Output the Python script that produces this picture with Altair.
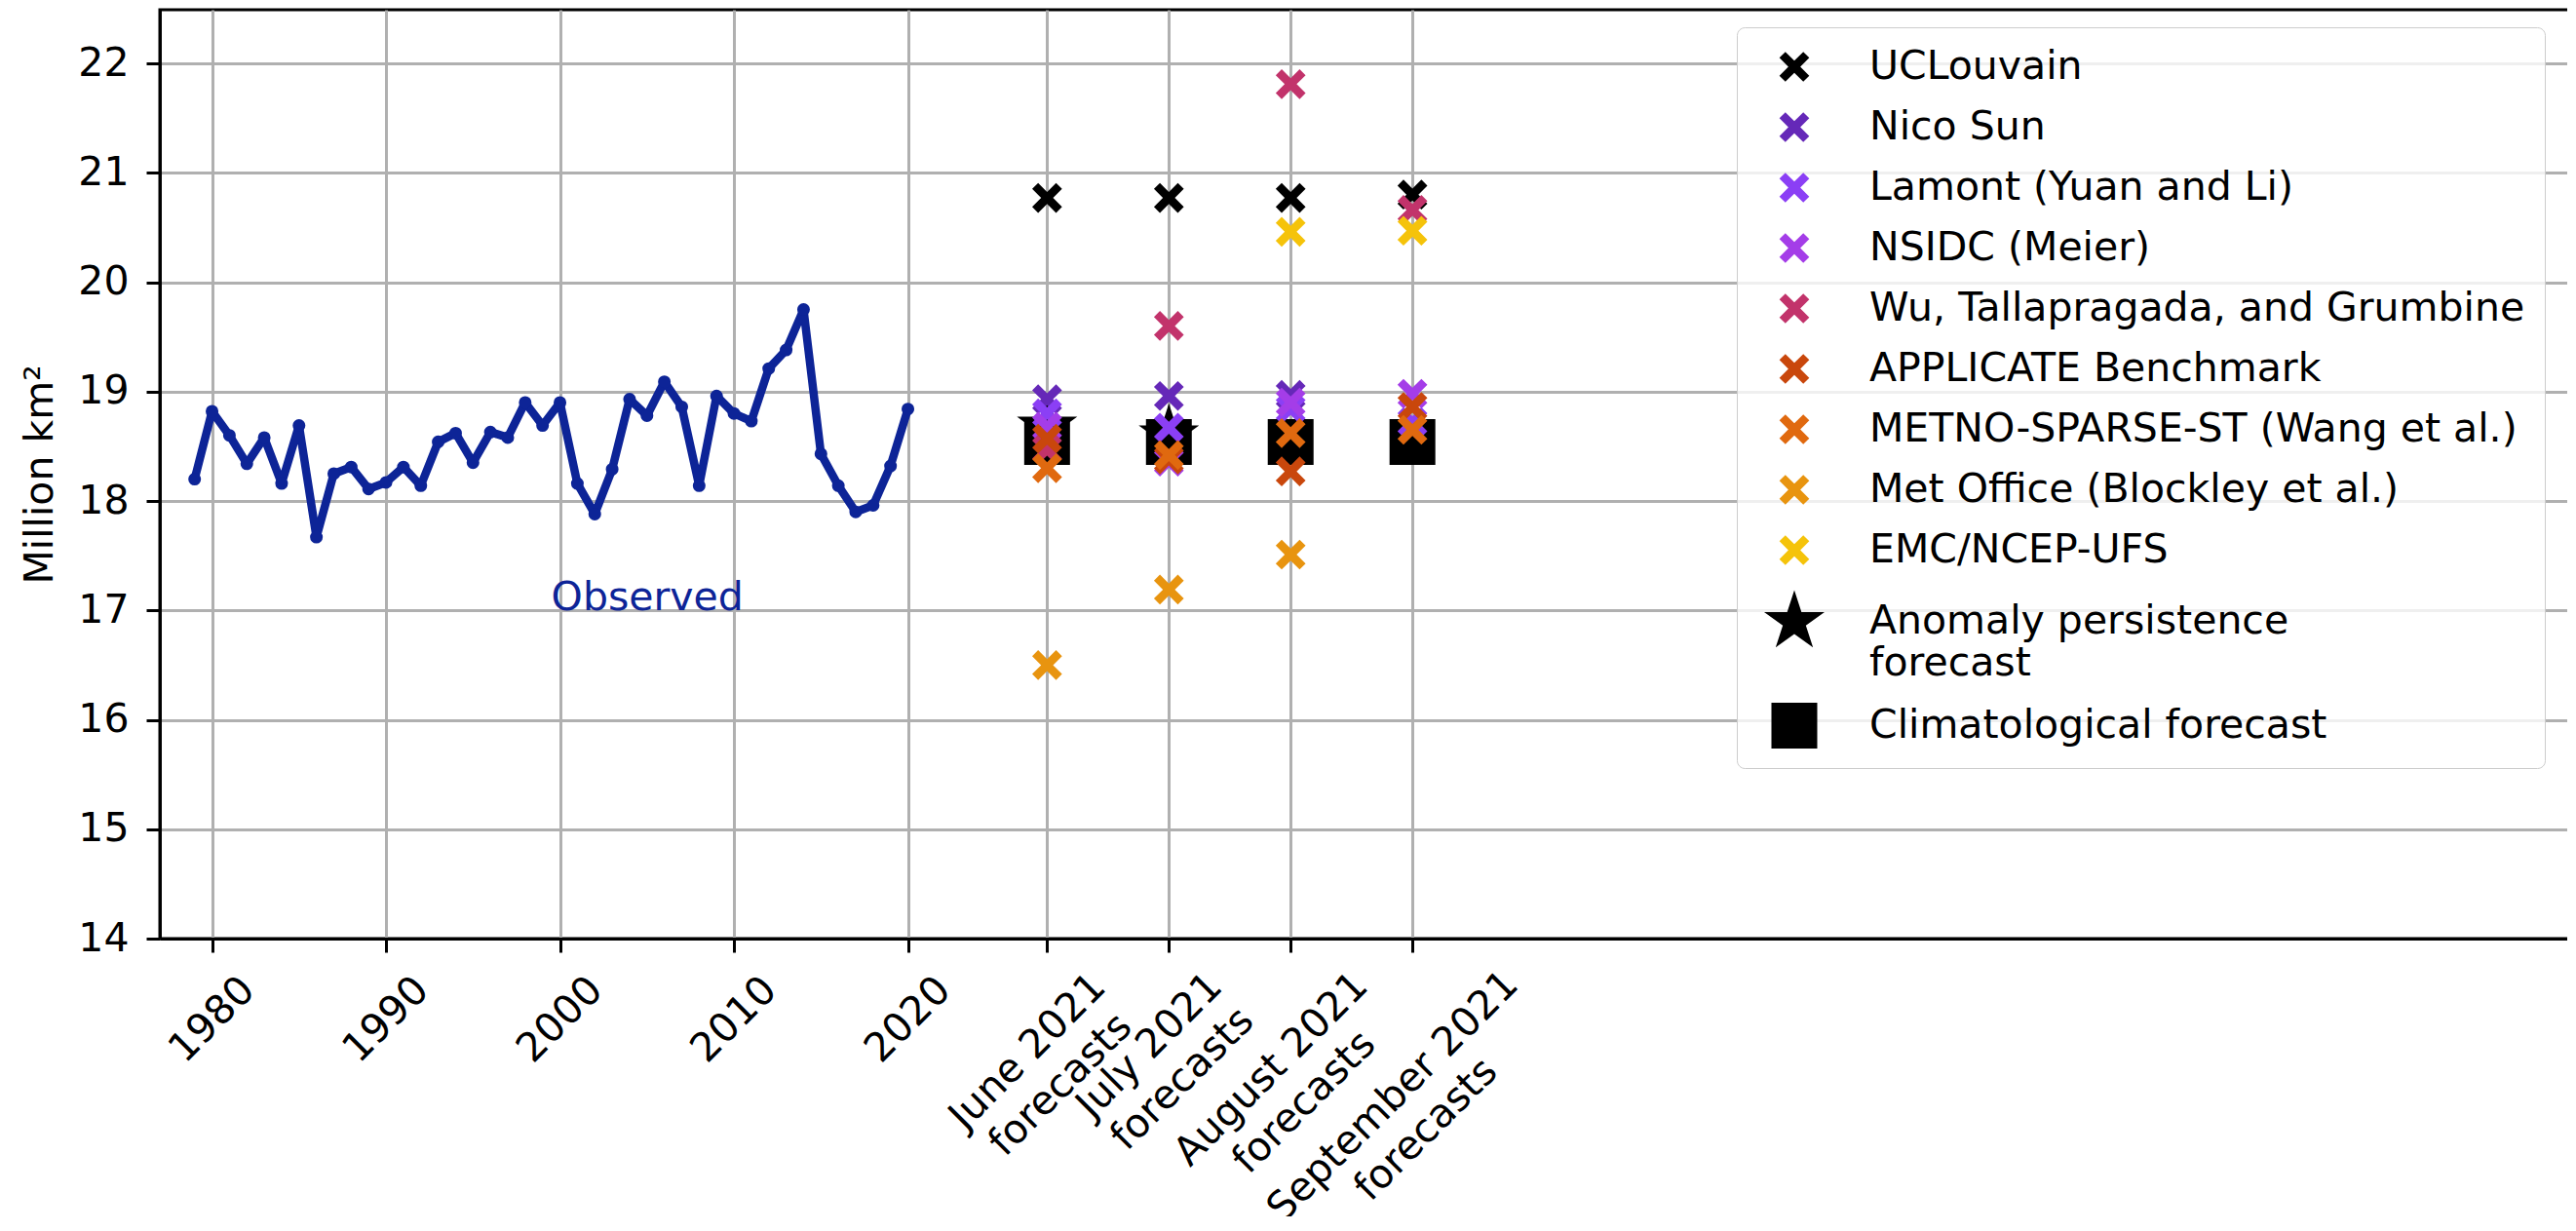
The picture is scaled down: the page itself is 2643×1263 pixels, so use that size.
import math
import altair as alt
import pandas as pd

# ---------------- data ----------------
obs_years = list(range(1979, 2021))
obs_extent = [18.20, 18.82, 18.60, 18.34, 18.58, 18.16, 18.69, 17.67, 18.25, 18.31,
              18.11, 18.17, 18.31, 18.14, 18.54, 18.62, 18.35, 18.63, 18.58, 18.90,
              18.69, 18.90, 18.16, 17.88, 18.29, 18.93, 18.78, 19.09, 18.86, 18.14,
              18.96, 18.80, 18.73, 19.21, 19.38, 19.75, 18.43, 18.14, 17.90, 17.96,
              18.32, 18.84]

obs_label = ["Observed"]
obs_label_x = [1999.5]
obs_label_y = [17.0]

year_ticks = [1980, 1990, 2000, 2010, 2020]
forecast_x = [2028, 2035, 2042, 2049]
forecast_tick_lines = [["June 2021", "forecasts"], ["July 2021", "forecasts"],
                       ["August 2021", "forecasts"], ["September 2021", "forecasts"]]
y_ticks = [14, 15, 16, 17, 18, 19, 20, 21, 22]

series_names = ["UCLouvain", "Nico Sun", "Lamont (Yuan and Li)", "NSIDC (Meier)",
                "Wu, Tallapragada, and Grumbine", "APPLICATE Benchmark",
                "METNO-SPARSE-ST (Wang et al.)", "Met Office (Blockley et al.)",
                "EMC/NCEP-UFS", "Anomaly persistence forecast", "Climatological forecast"]
series_colors = ["#000000", "#6528b8", "#8b3ff5", "#a43de8", "#c2336b", "#c9470c",
                 "#e0690f", "#e8940f", "#f5c30a", "#000000", "#000000"]

ucl_vals = [20.77, 20.77, 20.77, 20.80]
nico_vals = [18.93, 18.96, 18.97, None]
lamont_vals = [18.80, 18.67, 18.84, 18.72]
nsidc_vals = [18.68, 18.36, 18.90, 18.98]
wu_vals = [18.47, 19.60, 21.81, 20.66]
applicate_vals = [18.57, 18.38, 18.27, 18.86]
metno_vals = [18.30, 18.42, 18.62, 18.65]
metoffice_vals = [16.50, 17.19, 17.51, None]
emc_vals = [None, None, 20.46, 20.47]
anomaly_vals = [18.68, 18.60, None, None]
clim_vals = [18.54, 18.54, 18.54, 18.54]

series_values = [ucl_vals, nico_vals, lamont_vals, nsidc_vals, wu_vals, applicate_vals,
                 metno_vals, metoffice_vals, emc_vals, anomaly_vals, clim_vals]

# ---------------- symbol shapes ----------------
d = 0.40
x_pts = [(-1 + d, -1), (0, -d), (1 - d, -1), (1, -1 + d), (d, 0), (1, 1 - d),
         (1 - d, 1), (0, d), (-1 + d, 1), (-1, 1 - d), (-d, 0), (-1, -1 + d)]
X_PATH = "M" + "L".join(f"{px:.3f},{py:.3f}" for px, py in x_pts) + "Z"
star_pts = []
for k in range(10):
    ang = math.radians(-90 + 36 * k)
    r = 1.0 if k % 2 == 0 else 0.381966
    star_pts.append((r * math.cos(ang), r * math.sin(ang)))
STAR_PATH = "M" + "L".join(f"{px:.4f},{py:.4f}" for px, py in star_pts) + "Z"

series_shapes = [X_PATH] * 9 + [STAR_PATH, "square"]
series_sizes = [940] * 9 + [4250, 2209]

# ---------------- frames ----------------
obs_df = pd.DataFrame({"year": obs_years, "extent": obs_extent})
lab_df = pd.DataFrame({"x": obs_label_x, "y": obs_label_y, "label": obs_label})

draw_order = [9, 10] + list(range(9))
rows = []
k = 0
for i in draw_order:
    for pos, v in zip(forecast_x, series_values[i]):
        if v is not None:
            rows.append({"x": pos, "value": v, "series": series_names[i], "idx": k})
            k += 1
fc_df = pd.DataFrame(rows)

BLUE = "#0d2497"
FONT = "DejaVu Sans"

xs = alt.Scale(domain=[1977, 2116.05], nice=False, zero=False)
ys = alt.Scale(domain=[14, 22.49], nice=False, zero=False)

label_expr = " : ".join(
    f"datum.value == {x} ? ['{a}', '{b}']" for x, (a, b) in zip(forecast_x, forecast_tick_lines)
) + " : '' + datum.value"

pad_vals = [102, 96, 120, 148]
label_pad = {
    "condition": [{"test": f"datum.value == {x}", "value": p} for x, p in zip(forecast_x, pad_vals)],
    "value": 69,
}
label_off = {
    "condition": [{"test": "datum.value > 2025", "value": -20}],
    "value": 0,
}

# identical axis definitions are given to every layer so they merge into one shared axis
x_axis = alt.Axis(
    orient="bottom", values=year_ticks + forecast_x, labelExpr=label_expr,
    labelAngle=315, labelAlign="center", labelBaseline="middle", labelLimit=1000,
    labelPadding=label_pad, labelOffset=label_off, labelLineHeight=48, title=None, grid=True,
)
y_axis = alt.Axis(
    orient="left", values=y_ticks, format="d", title="Million km²",
    labelPadding=18, grid=True, titlePadding=17,
)

line = alt.Chart(obs_df).mark_line(
    color=BLUE, strokeWidth=8.5, strokeJoin="round",
).encode(
    x=alt.X("year:Q", scale=xs, axis=x_axis),
    y=alt.Y("extent:Q", scale=ys, axis=y_axis),
)

obs_pts = alt.Chart(obs_df).mark_circle(color=BLUE, size=170, opacity=1).encode(
    x=alt.X("year:Q", scale=xs, axis=x_axis),
    y=alt.Y("extent:Q", scale=ys, axis=y_axis),
)

legend = alt.Legend(
    title=None, orient="none", legendX=1618, legendY=18, direction="vertical",
    labelFontSize=41, labelFont=FONT, labelColor="black", labelLimit=2000,
    padding=20, rowPadding=20, symbolOffset=6, labelOffset=44,
    strokeColor="#cccccc", cornerRadius=8, fillColor="rgba(255,255,255,0.8)",
    symbolStrokeWidth=0,
    labelExpr="datum.label == 'Anomaly persistence forecast' ? ['Anomaly persistence', 'forecast'] : datum.label",
)

points = alt.Chart(fc_df).mark_point(filled=True, opacity=1, strokeWidth=0).encode(
    x=alt.X("x:Q", scale=xs, axis=x_axis),
    y=alt.Y("value:Q", scale=ys, axis=y_axis),
    color=alt.Color("series:N", scale=alt.Scale(domain=series_names, range=series_colors), legend=legend),
    shape=alt.Shape("series:N", scale=alt.Scale(domain=series_names, range=series_shapes), legend=legend),
    size=alt.Size("series:N", scale=alt.Scale(type="ordinal", domain=series_names, range=series_sizes), legend=legend),
    order=alt.Order("idx:Q"),
)

text = alt.Chart(lab_df).mark_text(
    align="left", baseline="alphabetic", fontSize=41, font=FONT, color=BLUE
).encode(
    x=alt.X("x:Q", scale=xs, axis=x_axis),
    y=alt.Y("y:Q", scale=ys, axis=y_axis),
    text="label:N",
)

chart = alt.layer(line, obs_pts, points, text).properties(
    width=2482, height=953,
    autosize=alt.AutoSizeParams(type="none"),
    padding={"left": 156, "top": 2, "right": -12, "bottom": 285},
).configure_view(stroke="black", strokeWidth=3).configure_axis(
    domainColor="black", domainWidth=3, tickColor="black", tickWidth=3, tickSize=14,
    gridColor="#b0b0b0", gridWidth=3, labelFont=FONT, labelFontSize=41, labelColor="black",
    labelFlush=False, labelOverlap=False, titleFont=FONT, titleFontSize=41,
    titleFontWeight="normal", titleColor="black",
)

chart.save("out.html", embed_options={"renderer": "svg", "actions": False})
